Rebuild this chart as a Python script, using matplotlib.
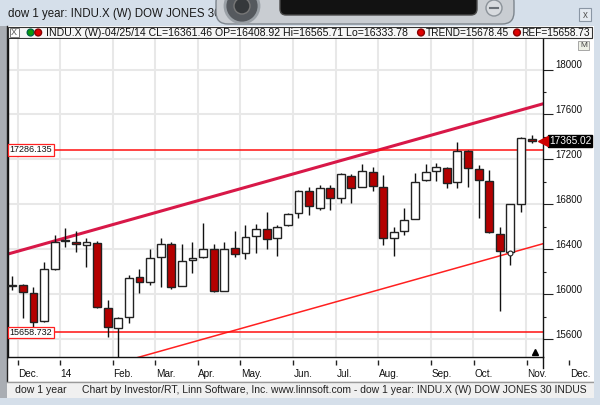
import numpy as np
import pandas as pd
import matplotlib
matplotlib.use("Agg")
import matplotlib.pyplot as plt
from matplotlib.patches import Rectangle, FancyBboxPatch, Circle
from matplotlib.transforms import blended_transform_factory, offset_copy

plt.rcParams['font.family'] = ['Liberation Sans', 'DejaVu Sans']

# weekly bars, dated by the Friday of each week
weeks = pd.date_range("2013-11-29", periods=50, freq="W-FRI")
opens = [16075, 16078, 16012, 15763, 16223, 16479, 16467, 16440, 16458, 15873,
         15695, 15799, 16150, 16108, 16328, 16446, 16072, 16303, 16328, 16404,
         16030, 16408.92, 16363, 16517, 16577, 16497, 16615, 16725, 16918, 16764,
         16942, 16858, 17054, 16956, 17090, 16956, 16502, 16562, 16671, 17013,
         17099, 17126, 16996, 17274, 17111, 17007, 16535, 16378, 16800, 17384]
highs = [16164, 16090, 16061, 16288, 16526, 16586, 16565, 16500, 16470, 15947,
         15800, 16170, 16221, 16399, 16502, 16464, 16446, 16461, 16636, 16449,
         16461, 16565.71, 16615, 16624, 16734, 16615, 16720, 16925, 16956, 16971,
         16971, 17076, 17070, 17156, 17134, 17060, 16600, 16769, 17076, 17156,
         17170, 17130, 17354, 17280, 17150, 17105, 16595, 16805, 17395, 17414]
lows = [16036, 15784, 15710, 15755, 16215, 16422, 16378, 16244, 15880, 15615,
        15340, 15740, 16012, 16080, 16066, 16045, 16068, 16191, 16322, 16021,
        16025, 16333.78, 16310, 16363, 16399, 16342, 16610, 16675, 16704, 16749,
        16749, 16808, 16808, 16950, 16918, 16437, 16342, 16526, 16665, 17005,
        17010, 16947, 16947, 16951, 16675, 16545, 15852, 16259, 16728, 17348]
closes = [16082, 16021, 15754, 16221, 16467, 16470, 16443, 16464, 15882, 15704,
          15790, 16146, 16108, 16319, 16449, 16066, 16297, 16321, 16404, 16030,
          16404, 16361.46, 16506, 16577, 16491, 16600, 16716, 16918, 16782, 16942,
          16858, 17067, 16947, 17096, 16965, 16502, 16553, 16660, 16995, 17090,
          17134, 16987, 17277, 17120, 17013, 16550, 16384, 16800, 17393, 17365.02]

trend_value = 15678.45   # lower trend line at the 04/25/14 bar
trend_bar = 21
trend_slope = 26.5       # points per week
channel_width = 1246
ref_high = 17286.135
ref_low = 15658.732
last_price = 17365.02

W, H = 600, 405
fig = plt.figure(figsize=(6, 4.05), dpi=100)


def box(x0, y0, x1, y1):
    return [x0 / W, 1 - y1 / H, (x1 - x0) / W, (y1 - y0) / H]


# ---- window chrome (pixel coordinates) ----
bg = fig.add_axes([0, 0, 1, 1])
bg.set_xlim(0, W)
bg.set_ylim(H, 0)
bg.axis('off')
bg.add_patch(Rectangle((0, 0), W, H, fc='#d5dfea', ec='none'))
bg.add_patch(Rectangle((7, 26), 587, 355, fc='white', ec='none'))
bg.add_patch(Rectangle((0, 26), 7, 372, fc='#a9adb3', ec='none'))
bg.plot([6.5, 6.5], [26, 381], color='#222', lw=1)
bg.add_patch(Rectangle((7, 381), 587, 17, fc='#f0f0f0', ec='none'))
bg.plot([7, 594], [381.5, 381.5], color='#9a9a9a', lw=1)
bg.text(8, 14, "dow 1 year: INDU.X (W) DOW JONES 30 INDUSTRIALS", fontsize=8.3,
        va='center', ha='left', color='#1a1a1a')
bg.text(15, 390, "dow 1 year", fontsize=7.6, va='center', color='#222')
bg.text(82, 390, "Chart by Investor/RT, Linn Software, Inc. www.linnsoft.com - "
        "dow 1 year: INDU.X (W) DOW JONES 30 INDUS",
        fontsize=7.5, va='center', color='#222')
bg.add_patch(Rectangle((594, 0), 6, H, fc='#d5dfea', ec='none', zorder=5))
bg.add_patch(Rectangle((0, 398), W, 7, fc='#d5dfea', ec='none', zorder=5))

# header bar
bg.add_patch(Rectangle((8, 27), 584, 11, fc='#f6f6f6', ec='#333', lw=0.8))
bg.add_patch(Rectangle((9.5, 28), 9, 9, fc='white', ec='#666', lw=0.6))
bg.text(14, 32.7, "X", fontsize=6.5, ha='center', va='center', color='#555')
bg.add_patch(Circle((30.6, 32.5), 3.4, fc='#0a9a0a', ec='#064'))
bg.add_patch(Circle((38.2, 32.5), 3.4, fc='#e00000', ec='#800'))
bg.text(46, 32.8, "INDU.X (W)-04/25/14 CL=16361.46 OP=16408.92 Hi=16565.71 Lo=16333.78",
        fontsize=7.6, va='center', color='#111')
bg.add_patch(Circle((421, 32.5), 3.4, fc='#e00000', ec='#800'))
bg.text(425.5, 32.8, "TREND=15678.45", fontsize=7.3, va='center', color='#111')
bg.add_patch(Circle((517, 32.5), 3.4, fc='#e00000', ec='#800'))
bg.text(521, 32.8, "REF=15658.73", fontsize=7.3, va='center', color='#111')

# desktop gadget covering the title
bg.add_patch(FancyBboxPatch((216, -10), 298, 34, boxstyle="round,pad=0,rounding_size=12",
                            fc='#c9cdd2', ec='#7d858d', lw=1, zorder=6))
bg.add_patch(Circle((242, 6), 17, fc='#55595e', ec='#9aa0a6', lw=2, zorder=7))
bg.add_patch(Circle((242, 6), 8, fc='#35383b', ec='#777', lw=1, zorder=7))
bg.add_patch(FancyBboxPatch((280, -8), 197, 23, boxstyle="round,pad=0,rounding_size=6",
                            fc='#121212', ec='#4a4a4a', lw=1, zorder=7))
bg.add_patch(Circle((494, 8), 8, fc='#d8dbdf', ec='#8b9299', lw=1, zorder=7))
bg.plot([490, 498], [8, 8], color='#6b7178', lw=1.5, zorder=8)
# close button and M button
bg.add_patch(Rectangle((579, 8), 12, 13, fc='#e4eaf1', ec='#8a96a4', lw=0.8))
bg.text(585, 14.5, "x", fontsize=7, ha='center', va='center', color='#555')
bg.add_patch(Rectangle((578, 41), 11, 9, fc='#eef0e6', ec='#999', lw=0.6))
bg.text(583.5, 45.5, "M", fontsize=6, ha='center', va='center', color='#444')

# ---- price chart ----
x = np.arange(len(weeks))
o = np.array(opens)
c = np.array(closes)
up = c >= o
xmin, xmax = -0.453, 50.07

ax = fig.add_axes(box(7.5, 39, 543, 357))
ax.set_xlim(xmin, xmax)
ax.set_ylim(15440, 18272)
ax.set_facecolor('white')

# month boundaries (first bar of each month), including the month after the data
all_weeks = pd.date_range(weeks[0], periods=len(weeks) + 4, freq="W-FRI")
bounds, names = [], []
for i in range(1, len(all_weeks)):
    if all_weeks[i].month != all_weeks[i - 1].month:
        bounds.append(i - 0.5)
        names.append("14" if all_weeks[i].month == 1 else all_weeks[i].strftime('%b') + '.')

ax.set_xticks([b for b in bounds if b < xmax])
ax.set_yticks(np.arange(15600, 18001, 400))
ax.set_yticks(np.arange(15800, 18001, 400), minor=True)
ax.grid(True, which='major', color='#e8e8e8', lw=1.5)
ax.set_axisbelow(True)
ax.tick_params(axis='x', length=0, labelbottom=False)
ax.tick_params(axis='y', which='major', left=False, right=True, labelleft=False,
               length=7, width=0.8, color='#222')
ax.tick_params(axis='y', which='minor', left=False, right=True, length=2.5,
               width=0.8, color='#222')
ax.spines['top'].set_visible(False)
for s in ['left', 'right', 'bottom']:
    ax.spines[s].set_color('#111')
    ax.spines[s].set_linewidth(1)

# right axis labels, sitting just above their ticks
ytrans = blended_transform_factory(ax.transAxes, ax.transData)
for v in np.arange(15600, 18001, 400):
    ax.text(1.0, v, str(v), transform=offset_copy(ytrans, fig, x=8.6, y=3.0, units='points'),
            fontsize=7, va='center', ha='left', color='#111', clip_on=False)

# channel and reference lines
xs = np.array([xmin, xmax])
lower = trend_value + trend_slope * (xs - trend_bar)
ax.plot(xs, lower, color='#ff2020', lw=1.1, zorder=2)
ax.plot(xs, lower + channel_width, color='#d81848', lw=2.2, zorder=2)
ax.axhline(ref_high, color='#ff1010', lw=1.1, zorder=2)
ax.axhline(ref_low, color='#ff1010', lw=1.1, zorder=2)
for v in [ref_high, ref_low]:
    ax.text(0.0, v, f"{v:.3f}", transform=offset_copy(ytrans, fig, x=1.5, y=0, units='points'),
            fontsize=6.5, va='center', ha='left', color='#111', zorder=6,
            bbox=dict(boxstyle='square,pad=0.15', fc='white', ec='#ff2020', lw=0.9))

# candles
ax.vlines(x, lows, highs, color='#111', lw=1, zorder=3)
heights = np.maximum(np.abs(c - o), 6)
ax.bar(x, heights, bottom=np.minimum(o, c), width=0.75,
       color=np.where(up, 'white', '#b40000'), edgecolor='#222', lw=1, zorder=4)

# touch marker on the trend line and bottom marker
ax.plot([47], [trend_value + trend_slope * (47 - trend_bar)], 'o', ms=3.5,
        mfc='white', mec='#222', mew=0.8, zorder=5)
ax.plot([49.35], [0.015], '^', ms=5, color='black',
        transform=blended_transform_factory(ax.transData, ax.transAxes), clip_on=False)

# last price tag
ax.plot([1.0], [last_price], '<', ms=6.5, color='#d00000', transform=ytrans,
        clip_on=False, zorder=6)
ax.text(1.0, last_price, "17365.02", transform=offset_copy(ytrans, fig, x=4.2, y=0, units='points'),
        fontsize=7.3, va='center', ha='left', color='white', clip_on=False,
        bbox=dict(boxstyle='square,pad=0.12', fc='black', ec='black'))

# ---- time strip ----
tax = fig.add_axes(box(7.5, 357, 580, 381))
tax.set_xlim(xmin, (580 - 12.3) / 10.606)
tax.set_ylim(24, 0)
tax.axis('off')
tax.vlines(bounds, 3, 8, color='#222', lw=1)
for b, n in zip(bounds, names):
    tax.text(b + 0.05, 17, n, fontsize=7.2, ha='left', va='center', color='#111')
bg.plot([543, 543], [357, 368], color='#111', lw=1)

fig.savefig("out.png", dpi=100)
